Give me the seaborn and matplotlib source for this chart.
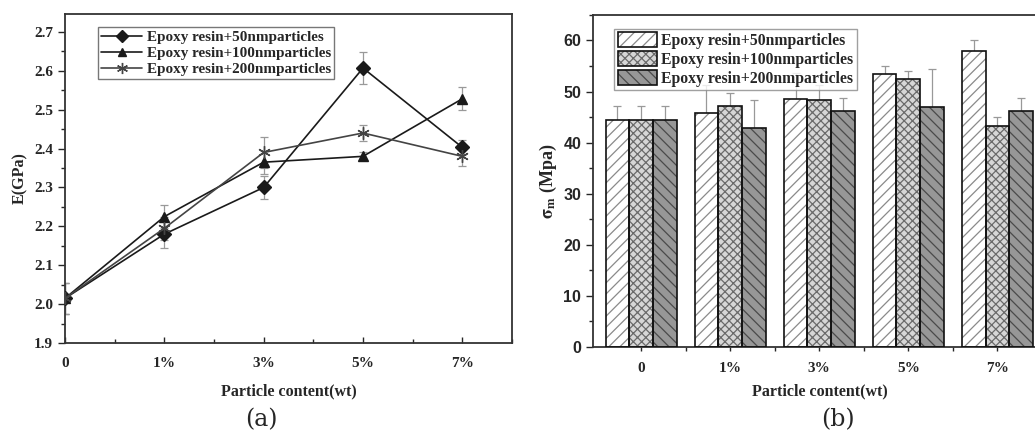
import numpy as np
import pandas as pd
import matplotlib
matplotlib.use("Agg")
import matplotlib.pyplot as plt
from matplotlib.ticker import MultipleLocator, FixedLocator
from matplotlib.legend_handler import HandlerTuple
import seaborn as sns

# ---------------- data ----------------
categories = ["0", "1%", "3%", "5%", "7%"]
series = ["Epoxy resin+50nmparticles", "Epoxy resin+100nmparticles", "Epoxy resin+200nmparticles"]

# (a) elastic modulus E (GPa)
E_50 = [2.015, 2.180, 2.300, 2.607, 2.403]
E_100 = [2.015, 2.225, 2.365, 2.380, 2.528]
E_200 = [2.015, 2.195, 2.390, 2.440, 2.380]
E_50_err = [0.040, 0.035, 0.030, 0.040, 0.020]
E_100_err = [0.040, 0.030, 0.030, 0.010, 0.030]
E_200_err = [0.040, 0.030, 0.040, 0.020, 0.025]

# (b) strength sigma_m (MPa)
S_50 = [44.5, 45.8, 48.6, 53.5, 57.9]
S_100 = [44.5, 47.2, 48.3, 52.5, 43.2]
S_200 = [44.5, 42.8, 46.2, 47.0, 46.1]
S_50_err = [2.7, 5.5, 5.0, 1.5, 2.2]
S_100_err = [2.7, 2.6, 3.0, 1.5, 1.8]
S_200_err = [2.7, 5.6, 2.5, 7.4, 2.7]

# ---------------- style ----------------
sns.set_theme(style="white")
plt.rcParams["font.family"] = ["Liberation Serif", "DejaVu Serif"]
plt.rcParams["mathtext.fontset"] = "stix"
plt.rcParams["hatch.linewidth"] = 0.9

fig = plt.figure(figsize=(10.35, 4.37), dpi=100)
axA = fig.add_axes([0.0628, 0.215, 0.4319, 0.753])
axB = fig.add_axes([0.573, 0.206, 0.438, 0.760])

# ---------------- panel (a) ----------------
xpos = np.arange(len(categories))
dfA = pd.DataFrame({
    "x": np.tile(xpos, 3),
    "E": E_50 + E_100 + E_200,
    "err": E_50_err + E_100_err + E_200_err,
    "series": np.repeat(series, len(categories)),
})
markers = {series[0]: "D", series[1]: "^", series[2]: (6, 2, 0)}
colors = {series[0]: "#1a1a1a", series[1]: "#1a1a1a", series[2]: "#444444"}
sizes = {series[0]: 7, series[1]: 7, series[2]: 9}

for s in series:
    d = dfA[dfA["series"] == s]
    axA.errorbar(d["x"], d["E"], yerr=d["err"], fmt="none", ecolor="#999999",
                 elinewidth=0.9, capsize=3, capthick=0.9, zorder=1)
for s in series:
    d = dfA[dfA["series"] == s]
    sns.lineplot(data=d, x="x", y="E", color=colors[s], marker=markers[s], ax=axA,
                 linewidth=1.2, markersize=sizes[s], markeredgewidth=1.0,
                 markeredgecolor=colors[s], legend=False, zorder=3)

axA.set_xlim(0, 4.5)
axA.set_ylim(1.9, 2.746)
axA.xaxis.set_major_locator(FixedLocator(xpos))
axA.set_xticklabels(categories)
axA.xaxis.set_minor_locator(MultipleLocator(0.5))
axA.yaxis.set_major_locator(MultipleLocator(0.1))
axA.yaxis.set_minor_locator(MultipleLocator(0.05))
axA.yaxis.set_major_formatter(matplotlib.ticker.FormatStrFormatter("%.1f"))
axA.tick_params(axis="x", which="major", direction="in", length=4, width=1, bottom=True, pad=10)
axA.tick_params(axis="x", which="minor", direction="in", length=3, width=1, bottom=True)
axA.tick_params(axis="y", which="major", direction="out", length=5, width=1, left=True)
axA.tick_params(axis="y", which="minor", direction="out", length=3, width=1, left=True)
for lab in axA.get_xticklabels() + axA.get_yticklabels():
    lab.set_fontweight("bold")
    lab.set_fontsize(11)
axA.set_xlabel("Particle content(wt)", fontsize=11.5, fontweight="bold", labelpad=10)
axA.set_ylabel("E(GPa)", fontsize=11.5, fontweight="bold", labelpad=4)
for sp in axA.spines.values():
    sp.set_color("#333333")
    sp.set_linewidth(1.3)

handlesA = []
for s in series:
    h, = axA.plot([], [], color=colors[s], marker=markers[s], markersize=sizes[s] - 1,
                  linewidth=1.2, label=s)
    handlesA.append(h)
legA = axA.legend(handles=handlesA, loc="upper left", bbox_to_anchor=(0.074, 0.96),
                  prop={"family": ["Liberation Serif"], "weight": "bold", "size": 10.9},
                  frameon=True, fancybox=False, edgecolor="#555555", handlelength=2.7,
                  borderpad=0.22, labelspacing=0.15, handletextpad=0.3, borderaxespad=0)
legA.get_frame().set_linewidth(1.0)

# ---------------- panel (b) ----------------
dfB = pd.DataFrame({
    "cat": np.tile(categories, 3),
    "S": S_50 + S_100 + S_200,
    "series": np.repeat(series, len(categories)),
})
bar_colors = {series[0]: "#ffffff", series[1]: "#d6d6d6", series[2]: "#979797"}
hatches = ["///", "xxxx", "\\\\\\"]
hatch_cols = ["#8a8a8a", "#6a6a6a", "#4a4a4a"]
errs = [S_50_err, S_100_err, S_200_err]
vals = [S_50, S_100, S_200]

# hatched fill layer
sns.barplot(data=dfB, x="cat", y="S", hue="series", palette=bar_colors,
            order=categories, hue_order=series, errorbar=None, width=0.8,
            linewidth=0, ax=axB, legend=False, zorder=2)
fill_conts = list(axB.containers)
# outline layer
sns.barplot(data=dfB, x="cat", y="S", hue="series", palette=bar_colors,
            order=categories, hue_order=series, errorbar=None, width=0.8,
            linewidth=1.2, ax=axB, legend=False, zorder=3)
line_conts = list(axB.containers)[len(fill_conts):]

for cont, hatch, hc in zip(fill_conts, hatches, hatch_cols):
    for p in cont.patches:
        p.set_hatch(hatch)
        p.set_edgecolor(hc)
        p.set_linewidth(0)
for cont, err, v in zip(line_conts, errs, vals):
    xs = []
    for p in cont.patches:
        p.set_facecolor("none")
        p.set_edgecolor("#111111")
        p.set_linewidth(1.2)
        xs.append(p.get_x() + p.get_width() / 2)
    axB.errorbar(xs, v, yerr=err, fmt="none", ecolor="#999999", elinewidth=0.9,
                 capsize=3, capthick=0.9, zorder=1)

axB.set_xlim(-0.54, 4.55)
axB.set_ylim(0, 65)
axB.yaxis.set_major_locator(MultipleLocator(10))
axB.yaxis.set_minor_locator(MultipleLocator(5))
axB.xaxis.set_minor_locator(FixedLocator(np.arange(len(categories) - 1) + 0.5))
axB.tick_params(axis="x", which="major", direction="out", length=3, width=1, bottom=True, pad=8)
axB.tick_params(axis="x", which="minor", direction="out", length=3, width=1, bottom=True)
axB.tick_params(axis="y", which="major", direction="out", length=5, width=1, left=True)
axB.tick_params(axis="y", which="minor", direction="out", length=3, width=1, left=True)
for lab in axB.get_xticklabels():
    lab.set_fontweight("bold")
    lab.set_fontsize(11)
for lab in axB.get_yticklabels():
    lab.set_fontfamily(["Liberation Sans"])
    lab.set_fontweight("bold")
    lab.set_fontsize(11.5)
axB.set_xlabel("Particle content(wt)", fontsize=11.5, fontweight="bold", labelpad=6)
axB.set_ylabel(r"$\mathbf{\sigma_m}$ (Mpa)", fontsize=13, fontweight="bold", labelpad=3)
for sp in axB.spines.values():
    sp.set_color("#333333")
    sp.set_linewidth(1.3)

handlesB = [(f.patches[0], l.patches[0]) for f, l in zip(fill_conts, line_conts)]
legB = axB.legend(handles=handlesB, labels=series, loc="upper left",
                  bbox_to_anchor=(0.047, 0.958),
                  handler_map={tuple: HandlerTuple(ndivide=1, pad=0)},
                  prop={"family": ["Liberation Serif"], "weight": "bold", "size": 11.3},
                  frameon=True, fancybox=False, edgecolor="#888888", handlelength=2.5,
                  handleheight=1.1, borderpad=0.2, labelspacing=0.15, handletextpad=0.3,
                  borderaxespad=0)
legB.get_frame().set_linewidth(1.0)

fig.text(0.253, 0.025, "(a)", fontsize=17, family=["DejaVu Serif"], ha="center")
fig.text(0.81, 0.025, "(b)", fontsize=17, family=["DejaVu Serif"], ha="center")

fig.savefig("out.png", dpi=100)
